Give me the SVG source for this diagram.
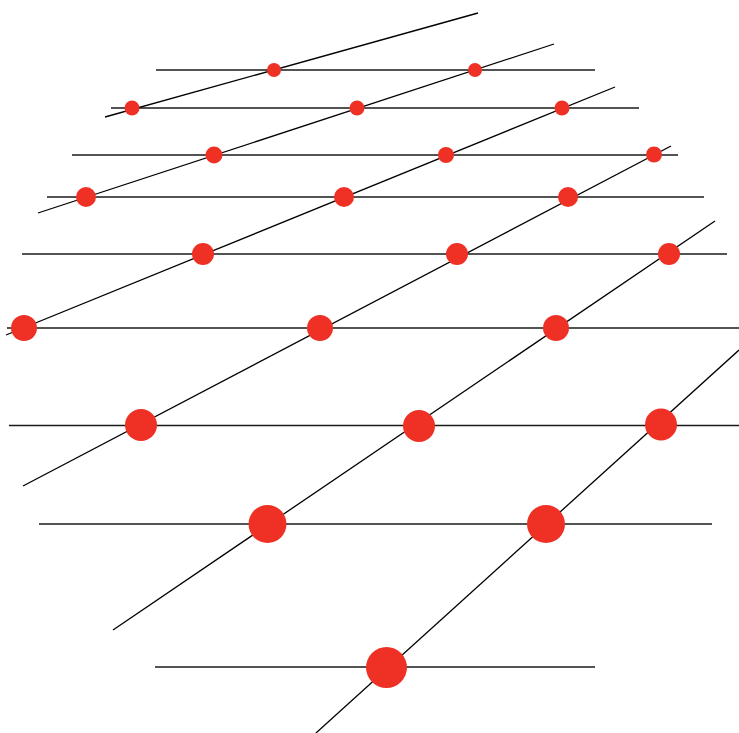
<svg xmlns="http://www.w3.org/2000/svg" width="739" height="733" viewBox="0 0 739 733">
<style>
.h{stroke:#1a1a1a;stroke-width:1.4;fill:none}
.d{stroke:#000;stroke-width:1.3;fill:none}
.p{fill:#EE3124}
</style>
<rect width="739" height="733" fill="#fff"/>
<g id="horizontals">
<line class="h" x1="156" y1="70" x2="595" y2="70"/>
<line class="h" x1="111" y1="108" x2="639" y2="108"/>
<line class="h" x1="72" y1="155" x2="678" y2="155"/>
<line class="h" x1="47" y1="197" x2="704" y2="197"/>
<line class="h" x1="22" y1="254" x2="727" y2="254"/>
<line class="h" x1="7" y1="328" x2="739" y2="328"/>
<line class="h" x1="9" y1="425.5" x2="739" y2="425.5"/>
<line class="h" x1="39" y1="524" x2="712" y2="524"/>
<line class="h" x1="155" y1="667" x2="595" y2="667"/>
</g>
<g id="diagonals">
<line class="d" x1="105" y1="117" x2="478" y2="13"/>
<line class="d" x1="38" y1="213" x2="554" y2="44"/>
<line class="d" x1="6" y1="335" x2="615" y2="87"/>
<line class="d" x1="23" y1="486" x2="671" y2="146"/>
<line class="d" x1="113" y1="630" x2="715" y2="221"/>
<line class="d" x1="316" y1="733" x2="739" y2="350"/>
</g>
<g id="dots">
<circle class="p" cx="274" cy="70" r="7"/>
<circle class="p" cx="475" cy="70" r="7"/>
<circle class="p" cx="132" cy="108" r="7.5"/>
<circle class="p" cx="357" cy="108" r="7.5"/>
<circle class="p" cx="562" cy="108" r="7.5"/>
<circle class="p" cx="214" cy="155" r="8.5"/>
<circle class="p" cx="446" cy="155" r="8"/>
<circle class="p" cx="654" cy="154.5" r="8"/>
<circle class="p" cx="86" cy="197" r="10"/>
<circle class="p" cx="344" cy="197" r="10"/>
<circle class="p" cx="568" cy="197" r="10"/>
<circle class="p" cx="203" cy="254" r="11"/>
<circle class="p" cx="457" cy="254" r="11"/>
<circle class="p" cx="669" cy="254" r="11"/>
<circle class="p" cx="24" cy="328" r="13"/>
<circle class="p" cx="320" cy="328" r="13"/>
<circle class="p" cx="556" cy="328" r="13"/>
<circle class="p" cx="141" cy="425" r="16"/>
<circle class="p" cx="419" cy="426" r="16"/>
<circle class="p" cx="661" cy="424.5" r="16"/>
<circle class="p" cx="267.5" cy="524" r="19"/>
<circle class="p" cx="546" cy="524" r="19"/>
<circle class="p" cx="386.5" cy="667.5" r="20.5"/>
</g>
</svg>
